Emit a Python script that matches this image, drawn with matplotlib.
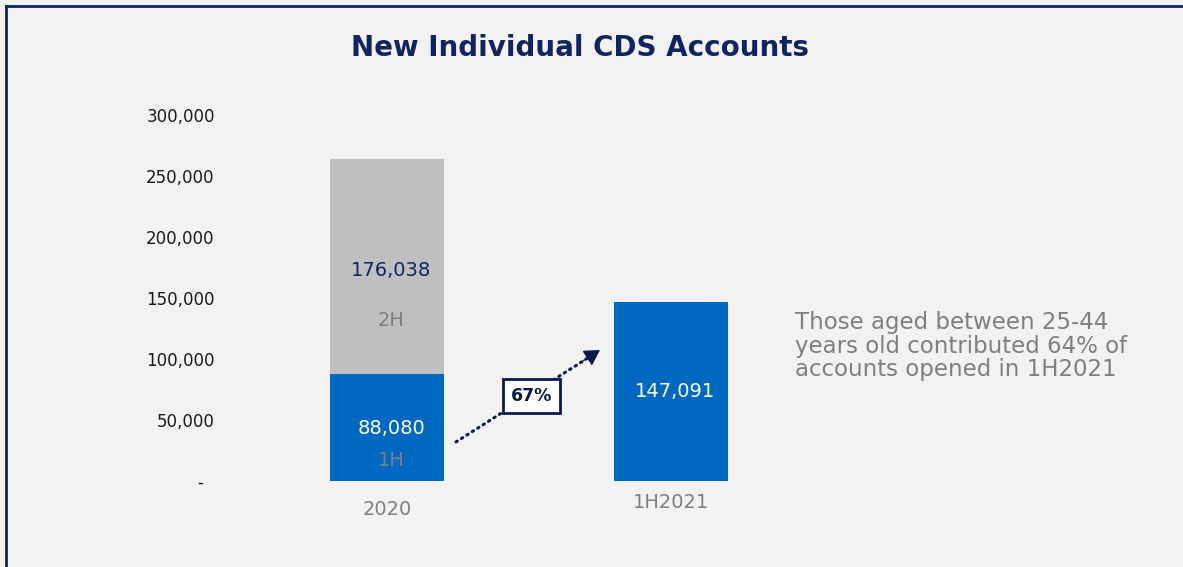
import matplotlib
matplotlib.use("Agg")
import matplotlib.pyplot as plt
from matplotlib.lines import Line2D
from matplotlib.ticker import FuncFormatter

# Data
categories = ["2020", "1H2021"]
first_half = [88080, 147091]
second_half = [176038, 0]
growth_label = "67%"
y_ticks = [0, 50000, 100000, 150000, 200000, 250000, 300000]
note = "Those aged between 25-44\nyears old contributed 64% of\naccounts opened in 1H2021"

BG = "#F2F2F2"
BLUE = "#0068C0"
GREY_BAR = "#BFBFBF"
NAVY = "#0F2461"
DARK_NAVY = "#0B1A4A"
GREY_TXT = "#7F7F7F"

W, H = 1183, 567
fig = plt.figure(figsize=(W / 100, H / 100), dpi=100, facecolor=BG)

# Axes placed in pixel terms: y=0 at 481px, 300k at 115px
ax_left, ax_right = 230, 1100
ax_bottom, ax_top = 481, 115
ax = fig.add_axes([ax_left / W, (H - ax_bottom) / H,
                   (ax_right - ax_left) / W, (ax_bottom - ax_top) / H])
ax.set_facecolor(BG)

c0, pitch = 387, 284
x = list(range(len(categories)))
ax.set_xlim((ax_left - c0) / pitch, (ax_right - c0) / pitch)
ax.set_ylim(0, 300000)

width = 0.40
ax.bar(x, first_half, width=width, color=BLUE, zorder=2)
ax.bar(x[:1], second_half[:1], bottom=first_half[:1], width=width,
       color=GREY_BAR, zorder=2)

for s in ax.spines.values():
    s.set_visible(False)

ax.set_yticks(y_ticks)
ax.yaxis.set_major_formatter(FuncFormatter(
    lambda v, p: "-  " if v == 0 else f"{int(v):,}"))
ax.tick_params(axis="y", length=0, pad=11, labelsize=12, labelcolor="#1A1A1A")
ax.set_xticks(x)
ax.set_xticklabels(categories)
ax.tick_params(axis="x", length=0, pad=14, labelsize=14, labelcolor=GREY_TXT)
ax.get_xticklabels()[1].set_y(0.02)

# Segment labels
xo = 0.015
ax.text(x[0] + xo, first_half[0] + second_half[0] * 0.482, f"{second_half[0]:,}",
        ha="center", va="center", fontsize=14, color=NAVY)
ax.text(x[0] + xo, first_half[0] + second_half[0] * 0.249, "2H",
        ha="center", va="center", fontsize=14, color=GREY_TXT)
ax.text(x[0] + xo, first_half[0] * 0.493, f"{first_half[0]:,}",
        ha="center", va="center", fontsize=14, color="white")
ax.text(x[0] + xo, first_half[0] * 0.195, "1H",
        ha="center", va="center", fontsize=14, color=GREY_TXT)
ax.text(x[1] + xo, first_half[1] * 0.50, f"{first_half[1]:,}",
        ha="center", va="center", fontsize=14, color="white")

# Growth arrow: dotted shaft plus a solid head
tail = (0.243, 32000)
tip = (0.75, 107400)
ax.plot([tail[0], 0.715], [tail[1], 102000], color=DARK_NAVY, lw=2.2,
        linestyle=(0, (0.5, 1.6)), dash_capstyle="round", zorder=3)
ax.annotate("", xy=tip, xycoords="data", xytext=(-12, -7.7),
            textcoords="offset points",
            arrowprops=dict(arrowstyle="-|>,head_length=0.95,head_width=0.55",
                            color=DARK_NAVY, lw=1.0, shrinkA=0, shrinkB=0),
            zorder=3)
ax.text(0.51, 69600, growth_label, ha="center", va="center", fontsize=12.5,
        fontweight="bold", color=DARK_NAVY, zorder=4,
        bbox=dict(boxstyle="square,pad=0.45", fc="white", ec=DARK_NAVY, lw=2))

# Side note
fig.text(795 / W, 1 - 311 / H, note, ha="left", va="top", fontsize=16.5,
         color=GREY_TXT, linespacing=1.03)

# Title
fig.text(580 / W, 1 - 48 / H, "New Individual CDS Accounts", ha="center",
         va="center", fontsize=20, fontweight="bold", color=NAVY)

# Frame lines along the top and left edge
fig.add_artist(Line2D([6 / W, 1], [1 - 6 / H, 1 - 6 / H], color=NAVY, lw=2.0,
                      transform=fig.transFigure))
fig.add_artist(Line2D([6 / W, 6 / W], [0, 1 - 6 / H], color=NAVY, lw=2.0,
                      transform=fig.transFigure))

fig.savefig("out.png", dpi=100, facecolor=BG)
